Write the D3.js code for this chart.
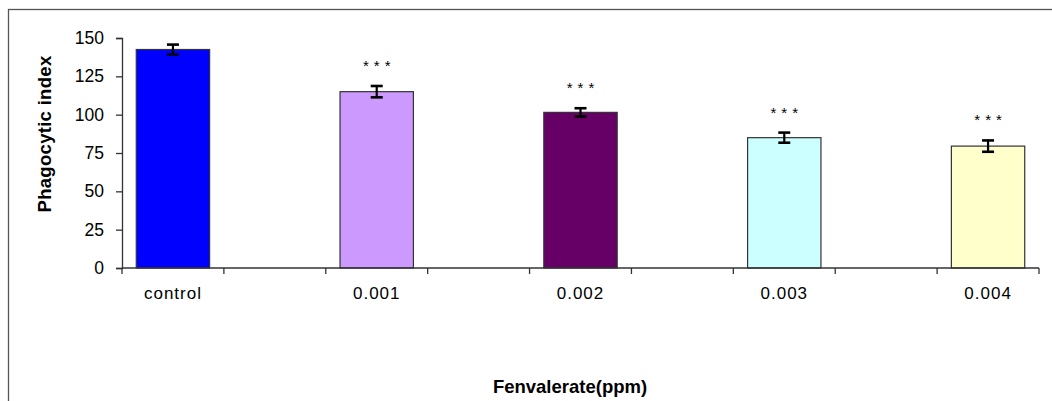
<!DOCTYPE html>
<html>
<head>
<meta charset="UTF-8">
<title>Phagocytic index</title>
<script src="https://d3js.org/d3.v7.min.js"></script>
<style>
    body { margin: 0; background: #fff; }
    text { font-family: Arial, "Liberation Sans", sans-serif; fill: #000; }
</style>
</head>
<body>
<div id="chart"></div>
<script>
    // data
    var categories = ['control', '0.001', '0.002', '0.003', '0.004'];
    var values = [142.5, 115, 101.5, 85, 79.5];
    var errors = [3.2, 3.7, 2.7, 3.3, 3.7];
    var stars = ['', '***', '***', '***', '***'];
    var colors = ['#0000ff', '#cc99ff', '#660066', '#ccffff', '#ffffcc'];
    var yTicks = [0, 25, 50, 75, 100, 125, 150];

    (function(d3) {
        var width = 1052, height = 401;
        var left = 122, right = 1039, plotTop = 38, plotBottom = 268;

        var svg = d3.select('#chart').append('svg')
            .attr('width', width)
            .attr('height', height);

        // outer frame
        svg.append('rect')
            .attr('x', 8.5).attr('y', 9.5)
            .attr('width', 1100).attr('height', 500)
            .attr('fill', 'none')
            .attr('stroke', '#555')
            .attr('stroke-width', 1.3);

        // every category sits in a slot with an empty slot between each pair
        var slots = [];
        categories.forEach(function(c, i) {
            slots.push(c);
            if (i < categories.length - 1) slots.push('gap' + i);
        });

        var x = d3.scaleBand().domain(slots).range([left, right]).padding(0);
        var y = d3.scaleLinear().domain([0, 150]).range([plotBottom, plotTop]);
        var barW = x.bandwidth() * 0.72;

        var data = categories.map(function(c, i) {
            return { cat: c, value: values[i], err: errors[i], star: stars[i], color: colors[i] };
        });

        // bars
        svg.selectAll('.bar').data(data).enter().append('rect')
            .attr('class', 'bar')
            .attr('x', function(d) { return x(d.cat) + (x.bandwidth() - barW) / 2; })
            .attr('y', function(d) { return y(d.value); })
            .attr('width', barW)
            .attr('height', function(d) { return y(0) - y(d.value); })
            .attr('fill', function(d) { return d.color; })
            .attr('stroke', '#333')
            .attr('stroke-width', 1.2);

        // error bars
        var eb = svg.selectAll('.err').data(data).enter().append('g').attr('class', 'err')
            .attr('stroke', '#000').attr('stroke-width', 2.2);
        eb.append('line')
            .attr('x1', function(d) { return x(d.cat) + x.bandwidth() / 2; })
            .attr('x2', function(d) { return x(d.cat) + x.bandwidth() / 2; })
            .attr('y1', function(d) { return y(d.value + d.err); })
            .attr('y2', function(d) { return y(d.value - d.err); });
        eb.selectAll('.cap').data(function(d) { return [[d, d.value + d.err], [d, d.value - d.err]]; })
            .enter().append('line')
            .attr('x1', function(p) { return x(p[0].cat) + x.bandwidth() / 2 - 6; })
            .attr('x2', function(p) { return x(p[0].cat) + x.bandwidth() / 2 + 6; })
            .attr('y1', function(p) { return y(p[1]); })
            .attr('y2', function(p) { return y(p[1]); })
            .attr('stroke-width', 2.6);

        // significance stars
        svg.selectAll('.star').data(data).enter().append('text')
            .attr('class', 'star')
            .attr('x', function(d) { return x(d.cat) + x.bandwidth() / 2 + 2.5; })
            .attr('y', function(d) { return y(d.value + d.err) - 15; })
            .attr('text-anchor', 'middle')
            .style('font-size', '15px')
            .style('letter-spacing', '5px')
            .text(function(d) { return d.star; });

        // y axis
        var yAxis = svg.append('g')
            .attr('transform', 'translate(' + left + ',0)')
            .call(d3.axisLeft(y).tickValues(yTicks).tickSize(6).tickPadding(12));
        yAxis.selectAll('text').style('font-size', '17.5px');

        // x axis: labels centered, ticks on slot boundaries
        var xAxis = svg.append('g')
            .attr('transform', 'translate(0,' + plotBottom + ')')
            .call(d3.axisBottom(x).tickSize(0).tickPadding(19)
                .tickFormat(function(d) { return d.indexOf('gap') === 0 ? '' : d; }));
        xAxis.selectAll('text').style('font-size', '17px').style('letter-spacing', '1px');
        xAxis.select('.domain').remove();

        svg.append('line')
            .attr('x1', left).attr('x2', right)
            .attr('y1', plotBottom).attr('y2', plotBottom)
            .attr('stroke', '#333').attr('stroke-width', 1.3);
        svg.selectAll('.xtick').data(slots.concat(['end'])).enter().append('line')
            .attr('class', 'xtick')
            .attr('x1', function(d) { return d === 'end' ? right : x(d); })
            .attr('x2', function(d) { return d === 'end' ? right : x(d); })
            .attr('y1', plotBottom).attr('y2', plotBottom + 6)
            .attr('stroke', '#333').attr('stroke-width', 1.3);

        svg.selectAll('.domain, .tick line').attr('stroke', '#333').attr('stroke-width', 1.3);

        // axis titles
        svg.append('text')
            .attr('transform', 'translate(51,134) rotate(-90)')
            .attr('text-anchor', 'middle')
            .style('font-size', '18.5px')
            .style('font-weight', 'bold')
            .style('letter-spacing', '0.3px')
            .text('Phagocytic index');

        svg.append('text')
            .attr('x', 570).attr('y', 393)
            .attr('text-anchor', 'middle')
            .style('font-size', '18.5px')
            .style('font-weight', 'bold')
            .text('Fenvalerate(ppm)');
    })(window.d3);
</script>
</body>
</html>
